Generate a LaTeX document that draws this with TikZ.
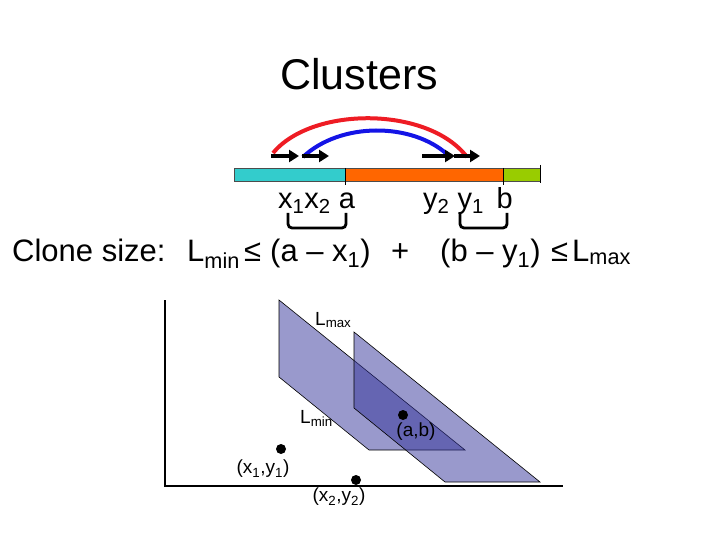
\documentclass[tikz,border=0pt]{standalone}
\usepackage{fontspec}
\setmainfont{Liberation Sans}
\usetikzlibrary{arrows.meta}
\definecolor{segA}{RGB}{51,204,204}
\definecolor{segB}{RGB}{255,102,0}
\definecolor{segC}{RGB}{153,204,0}
\definecolor{plane}{RGB}{51,51,153}
\definecolor{arcred}{RGB}{238,28,36}
\definecolor{arcblue}{RGB}{20,20,230}
\tikzset{
  seg/.style={draw=black!70, line width=0.8pt},
  tickline/.style={draw=black, line width=1pt},
  readarrow/.style={line width=3.5pt, -{Triangle[length=10pt,width=12pt]}},
  arcline/.style={line width=4pt},
  bracket/.style={line width=2.8pt, rounded corners=4pt},
  axis/.style={line width=2.8pt},
  band/.style={fill=plane, fill opacity=0.5, draw=black, draw opacity=1, line width=0.6pt},
  dot/.style={circle, fill=black, inner sep=0pt, minimum size=10pt},
  eq/.style={anchor=base west, inner sep=0pt, font=\fontsize{31}{33}\selectfont},
  lab/.style={anchor=base west, inner sep=0pt, font=\fontsize{29}{31}\selectfont},
  small/.style={inner sep=0pt, font=\fontsize{19}{21}\selectfont}
}
\begin{document}
\begin{tikzpicture}[x=1pt,y=-1pt]
\useasboundingbox (0,0) rectangle (720,540);
% title
\node[anchor=base, inner sep=0pt, font=\fontsize{43}{46}\selectfont] (title) at (359,90) {Clusters};
% bar
\path[seg, fill=segA] (234,168) rectangle (345,181);
\path[seg, fill=segB] (345,168) rectangle (503,181);
\path[seg, fill=segC] (503,168) rectangle (540,181);
\coordinate (ta) at (345,168);
\coordinate (tb) at (503,168);
\coordinate (tc) at (540,165);
\draw[tickline] (ta) -- ++(0,17);
\draw[tickline] (tb) -- ++(0,17);
\draw[tickline] (tc) -- ++(0,18);
% arcs
\coordinate (r1) at (273,153);
\coordinate (r2) at (467,157);
\coordinate (b1) at (303,157);
\coordinate (b2) at (448,155);
\draw[arcline, arcred] (r1) .. controls (312,106) and (428,106) .. (r2);
\draw[arcline, arcblue] (b1) .. controls (340,122) and (412,122) .. (b2);
% read arrows
\coordinate (p1s) at (271,156); \coordinate (p1e) at (299,156);
\coordinate (p2s) at (302,156); \coordinate (p2e) at (329,156);
\coordinate (p3s) at (422,156); \coordinate (p3e) at (455,156);
\coordinate (p4s) at (454,156); \coordinate (p4e) at (480,156);
\draw[readarrow] (p1s) -- (p1e);
\draw[readarrow] (p2s) -- (p2e);
\draw[readarrow] (p3s) -- (p3e);
\draw[readarrow] (p4s) -- (p4e);
% labels under bar
\node[lab] (lx) at (278,208) {x\textsubscript{1}x\textsubscript{2} a};
\node[lab] (ly) at (423,208) {y\textsubscript{2} y\textsubscript{1}\, b};
% brackets
\draw[bracket] (288,213) -- (288,228) -- (346,228) -- (346,213);
\draw[bracket] (460,213) -- (460,228) -- (507,228) -- (507,213);
% equation
\node[eq] (e1) at (12,261) {Clone size:};
\node[eq] (e2) at (187,261) {L\textsubscript{min}};
\node[eq] (le1) at (244,261) {≤};
\node[eq] (e3) at (270,261) {(a – x\textsubscript{1})};
\node[eq] (e4) at (391,261) {+};
\node[eq] (e5) at (440,261) {(b – y\textsubscript{1})};
\node[eq] (le2) at (551,261) {≤};
\node[eq] (e6) at (572,261) {L\textsubscript{max}};
% axes
\coordinate (o) at (165,486);
\draw[axis] (165,300) -- (o) -- (563,486);
% bands
\path[band] (279,300) -- (279,377) -- (369,450) -- (465,450) -- cycle;
\path[band] (354,332) -- (354,408) -- (445,482) -- (540,482) -- cycle;
% band labels
\node[small, anchor=base west] (lmax) at (315,325) {L\textsubscript{max}};
\node[small, anchor=base west] (lmin) at (300,423) {L\textsubscript{min}};
% points
\node[dot] (pab) at (403,415) {};
\node[dot] (px1) at (281,449) {};
\node[dot] (px2) at (356,480) {};
\node[small] (lab) at (416,432) {(a,b)};
\node[small] (lx1) at (263,469) {(x\textsubscript{1},y\textsubscript{1})};
\node[small] (lx2) at (339,497) {(x\textsubscript{2},y\textsubscript{2})};
\end{tikzpicture}
\end{document}
